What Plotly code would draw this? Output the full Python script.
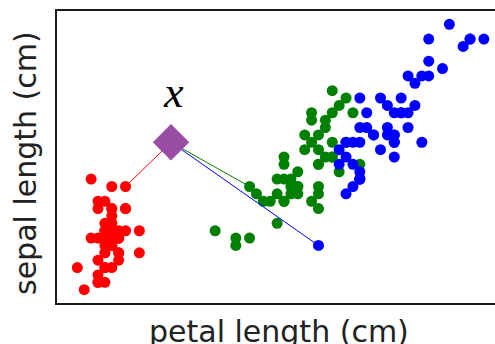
import plotly.graph_objects as go

# Iris data: petal length (x) and sepal length (y) per class
setosa_petal = [1.4,1.4,1.3,1.5,1.4,1.7,1.4,1.5,1.4,1.5,1.5,1.6,1.4,1.1,1.2,1.5,1.3,1.4,1.7,1.5,
                1.7,1.5,1.0,1.7,1.9,1.6,1.6,1.5,1.4,1.6,1.6,1.5,1.5,1.4,1.5,1.2,1.3,1.5,1.3,1.5,
                1.3,1.3,1.3,1.6,1.9,1.4,1.6,1.4,1.5,1.4]
setosa_sepal = [5.1,4.9,4.7,4.6,5.0,5.4,4.6,5.0,4.4,4.9,5.4,4.8,4.8,4.3,5.8,5.7,5.4,5.1,5.7,5.1,
                5.4,5.1,4.6,5.1,4.8,5.0,5.0,5.2,5.2,4.7,4.8,5.4,5.2,5.5,4.9,5.0,5.5,4.9,4.4,5.1,
                5.0,4.5,4.4,5.0,5.1,4.8,5.1,4.6,5.3,5.0]
versicolor_petal = [4.7,4.5,4.9,4.0,4.6,4.5,4.7,3.3,4.6,3.9,3.5,4.2,4.0,4.7,3.6,4.4,4.5,4.1,4.5,3.9,
                    4.8,4.0,4.9,4.7,4.3,4.4,4.8,5.0,4.5,3.5,3.8,3.7,3.9,5.1,4.5,4.5,4.7,4.4,4.1,4.0,
                    4.4,4.6,4.0,3.3,4.2,4.2,4.2,4.3,3.0,4.1]
versicolor_sepal = [7.0,6.4,6.9,5.5,6.5,5.7,6.3,4.9,6.6,5.2,5.0,5.9,6.0,6.1,5.6,6.7,5.6,5.8,6.2,5.6,
                    5.9,6.1,6.3,6.1,6.4,6.6,6.8,6.7,6.0,5.7,5.5,5.5,5.8,6.0,5.4,6.0,6.7,6.3,5.6,5.5,
                    5.5,6.1,5.8,5.0,5.6,5.7,5.7,6.2,5.1,5.7]
virginica_petal = [6.0,5.1,5.9,5.6,5.8,6.6,4.5,6.3,5.8,6.1,5.1,5.3,5.5,5.0,5.1,5.3,5.5,6.7,6.9,5.0,
                   5.7,4.9,6.7,4.9,5.7,6.0,4.8,4.9,5.6,5.8,6.1,6.4,5.6,5.1,5.6,6.1,5.6,5.5,4.8,5.4,
                   5.6,5.1,5.1,5.9,5.7,5.2,5.0,5.2,5.4,5.1]
virginica_sepal = [6.3,5.8,7.1,6.3,6.5,7.6,4.9,7.3,6.7,7.2,6.5,6.4,6.8,5.7,5.8,6.4,6.5,7.7,7.7,6.0,
                   6.9,5.6,7.7,6.3,6.7,7.2,6.2,6.1,6.4,7.2,7.4,7.9,6.4,6.3,6.1,7.7,6.3,6.4,6.0,6.9,
                   6.7,6.9,5.8,6.8,6.7,6.7,6.3,6.5,6.2,5.9]

# Query point x and its nearest neighbour in each class
query_point = (2.36, 6.3)
neighbour_petal = [1.7, 3.5, 4.5]
neighbour_sepal = [5.7, 5.7, 4.9]
class_colors = ["#ff0000", "#008000", "#0000ff"]

W, H = 495, 344
ML, MR, MT, MB = 57, 0, 11, 41
PW, PH = W - ML - MR, H - MT - MB

fig = go.Figure()
for px_, py_, c in [(setosa_petal, setosa_sepal, class_colors[0]),
                    (versicolor_petal, versicolor_sepal, class_colors[1]),
                    (virginica_petal, virginica_sepal, class_colors[2])]:
    fig.add_trace(go.Scatter(x=px_, y=py_, mode="markers",
                             marker=dict(color=c, size=11, line=dict(width=0)),
                             hoverinfo="skip"))

for nx, ny, c in zip(neighbour_petal, neighbour_sepal, class_colors):
    fig.add_trace(go.Scatter(x=[query_point[0], nx], y=[query_point[1], ny], mode="lines",
                             line=dict(color=c, width=1), hoverinfo="skip"))

fig.add_trace(go.Scatter(x=[query_point[0]], y=[query_point[1]], mode="markers",
                         marker=dict(symbol="diamond", color="#9a4da5", size=28, line=dict(width=0)),
                         hoverinfo="skip"))

fig.add_annotation(x=query_point[0] + 0.04, y=query_point[1] + 0.67, text="x", showarrow=False,
                   xref="x", yref="y",
                   font=dict(family="Liberation Serif", size=44, color="#000000", style="italic"),
                   xanchor="center", yanchor="middle")

fig.add_annotation(x=(279 - ML) / PW, y=(MT + PH - 331) / PH, xref="paper", yref="paper",
                   text="petal length (cm)", showarrow=False,
                   font=dict(family="DejaVu Sans", size=30, color="#222222"),
                   xanchor="center", yanchor="middle")
fig.add_annotation(x=(25 - ML) / PW, y=(MT + PH - 163) / PH, xref="paper", yref="paper",
                   text="sepal length (cm)", showarrow=False, textangle=-90,
                   font=dict(family="DejaVu Sans", size=30, color="#222222"),
                   xanchor="center", yanchor="middle")

fig.update_layout(
    width=W, height=H,
    margin=dict(l=ML, r=MR, t=MT, b=MB, pad=0),
    paper_bgcolor="white", plot_bgcolor="white",
    showlegend=False,
    xaxis=dict(range=[0.705, 0.705 + PW / 68.9], showgrid=False, zeroline=False,
               showticklabels=False, ticks="", showline=True, linecolor="#1a1a1a",
               linewidth=1.5, mirror=True),
    yaxis=dict(range=[4.12, 8.08], showgrid=False, zeroline=False,
               showticklabels=False, ticks="", showline=True, linecolor="#1a1a1a",
               linewidth=1.5, mirror=False),
)

fig.write_html("out.html", config={"displayModeBar": False},
               post_script="document.body.style.margin='0';document.body.style.overflow='hidden';")
